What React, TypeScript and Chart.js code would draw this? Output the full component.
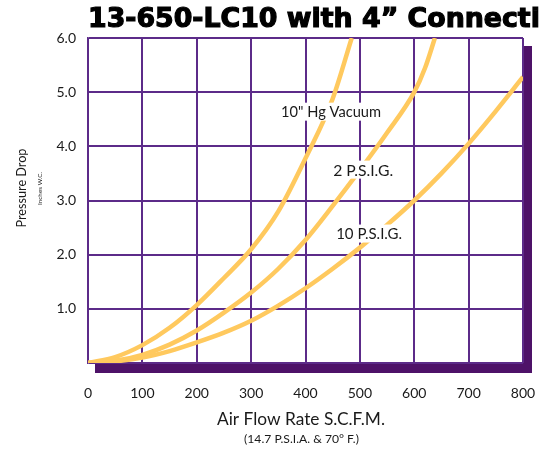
import React, { useEffect, useRef } from "react";
import { Chart, registerables } from "chart.js";

Chart.register(...registerables);

// ---- data ----
const flowTicks = [0, 100, 200, 300, 400, 500, 600, 700, 800];
const dropTicks = [1, 2, 3, 4, 5, 6];

const vacuumFlow = [0, 50, 100, 150, 200, 250, 300, 350, 400, 450, 485];
const vacuumDrop = [0, 0.11, 0.33, 0.65, 1.07, 1.57, 2.1, 2.8, 3.78, 4.88, 6.0];

const psig2Flow = [0, 50, 100, 150, 200, 250, 300, 350, 400, 450, 500, 550, 600, 620, 638];
const psig2Drop = [0, 0.04, 0.15, 0.34, 0.6, 0.93, 1.3, 1.74, 2.27, 2.9, 3.56, 4.25, 5.0, 5.45, 6.0];

const psig10Flow = [0, 50, 100, 150, 200, 250, 300, 350, 400, 450, 500, 550, 600, 650, 700, 750, 800];
const psig10Drop = [0, 0.03, 0.1, 0.22, 0.38, 0.56, 0.78, 1.06, 1.38, 1.74, 2.13, 2.55, 3.0, 3.5, 4.05, 4.65, 5.28];

const seriesNames = ['10" Hg Vacuum', "2 P.S.I.G.", "10 P.S.I.G."];
const labelFlow = [447, 506, 517];
const labelDrop = [4.64, 3.57, 2.39];

const chartTitle = "13-650-LC10 with 4\u201D Connections";
const xTitle = "Air Flow Rate S.C.F.M.";
const xSubtitle = "(14.7 P.S.I.A. & 70\u00B0 F.)";
const yTitle = "Pressure Drop";
const ySubtitle = "Inches W.C.";

const CURVE = "#ffc95e";
const GRID = "#5c2b89";
const SHADOW = "#4e1268";
const TEXT = "#1a1a1a";
const FONT = "Lato";

function fitSize(ctx: CanvasRenderingContext2D, text: string, width: number, family: string, weight: string) {
  ctx.font = `${weight} 100px ${family}`;
  const w = ctx.measureText(text).width;
  return (100 * width) / w;
}

const labelWidths = [100, 60, 66];

const decorPlugin = {
  id: "decor",
  beforeDraw(chart: any) {
    const { ctx, chartArea } = chart;
    const { left, top, right, bottom } = chartArea;
    ctx.save();
    ctx.fillStyle = SHADOW;
    ctx.fillRect(left + 7, top + 8, right + 9 - (left + 7), bottom + 10 - (top + 8));
    ctx.fillStyle = "#ffffff";
    ctx.fillRect(left, top, right - left, bottom - top);
    ctx.restore();
  },
  afterDatasetsDraw(chart: any) {
    const { ctx } = chart;
    const xs = chart.scales.x;
    const ys = chart.scales.y;
    ctx.save();
    ctx.textAlign = "center";
    ctx.textBaseline = "middle";
    seriesNames.forEach((name, i) => {
      const fs = fitSize(ctx, name, labelWidths[i], FONT, "normal");
      ctx.font = `${fs}px ${FONT}`;
      const px = xs.getPixelForValue(labelFlow[i]);
      const py = ys.getPixelForValue(labelDrop[i]);
      const w = ctx.measureText(name).width;
      ctx.fillStyle = "#ffffff";
      ctx.fillRect(px - w / 2 - 4, py - 9, w + 8, 18);
      ctx.fillStyle = TEXT;
      ctx.fillText(name, px, py + 1);
    });
    ctx.restore();
  },
  afterDraw(chart: any) {
    const { ctx } = chart;
    ctx.save();
    ctx.fillStyle = "#000000";
    // title
    const ts = fitSize(ctx, "13-650-LC10 with 4\u201D Connecti", 452, "'DejaVu Sans'", "bold");
    ctx.font = `bold ${ts}px 'DejaVu Sans'`;
    ctx.textAlign = "left";
    ctx.textBaseline = "alphabetic";
    ctx.strokeStyle = "#000";
    ctx.lineWidth = 1.2;
    ctx.fillText(chartTitle, 88, 27);
    ctx.strokeText(chartTitle, 88, 27);

    ctx.fillStyle = TEXT;
    // x titles
    ctx.textAlign = "center";
    let s = fitSize(ctx, xTitle, 168, FONT, "normal");
    ctx.font = `${s}px ${FONT}`;
    ctx.fillText(xTitle, 301, 425);
    s = fitSize(ctx, xSubtitle, 115, FONT, "normal");
    ctx.font = `${s}px ${FONT}`;
    ctx.fillText(xSubtitle, 301.5, 443);

    // y titles
    ctx.save();
    ctx.translate(26, 188);
    ctx.rotate(-Math.PI / 2);
    s = fitSize(ctx, yTitle, 79, FONT, "normal");
    ctx.font = `${s}px ${FONT}`;
    ctx.fillText(yTitle, 0, 0);
    ctx.restore();

    ctx.save();
    ctx.translate(42, 188.5);
    ctx.rotate(-Math.PI / 2);
    s = fitSize(ctx, ySubtitle, 33, FONT, "normal");
    ctx.font = `${s}px ${FONT}`;
    ctx.fillText(ySubtitle, 0, 0);
    ctx.restore();

    ctx.restore();
  },
};

function toPoints(xs: number[], ys: number[]) {
  return xs.map((x, i) => ({ x, y: ys[i] }));
}

export default function App() {
  const ref = useRef<HTMLCanvasElement | null>(null);

  useEffect(() => {
    if (!ref.current) return;
    const mk = (label: string, xs: number[], ys: number[]) => ({
      label,
      data: toPoints(xs, ys),
      borderColor: CURVE,
      backgroundColor: CURVE,
      borderWidth: 4.5,
      pointRadius: 0,
      fill: false,
      cubicInterpolationMode: "monotone" as const,
    });
    const chart = new Chart(ref.current, {
      type: "line",
      data: {
        datasets: [
          mk(seriesNames[0], vacuumFlow, vacuumDrop),
          mk(seriesNames[1], psig2Flow, psig2Drop),
          mk(seriesNames[2], psig10Flow, psig10Drop),
        ],
      },
      options: {
        responsive: false,
        animation: false,
        layout: { padding: { top: 38, right: 16, left: 0, bottom: 0 } },
        plugins: {
          legend: { display: false },
          title: { display: false },
          tooltip: { enabled: false },
        },
        scales: {
          x: {
            type: "linear",
            min: 0,
            max: 800,
            afterFit(scale: any) {
              scale.height = 88;
              scale.paddingLeft = 0;
              scale.paddingRight = 0;
            },
            afterBuildTicks(scale: any) {
              scale.ticks = flowTicks.map((v) => ({ value: v }));
            },
            ticks: {
              padding: 22,
              color: TEXT,
              font: { family: FONT, size: 14 },
              maxRotation: 0,
              autoSkip: false,
              callback: (v: any) => String(v),
            },
            grid: { color: GRID, lineWidth: 2, drawTicks: false },
            border: { display: false },
          },
          y: {
            type: "linear",
            min: 0,
            max: 6,
            afterFit(scale: any) {
              scale.width = 88;
              scale.paddingTop = 0;
              scale.paddingBottom = 0;
            },
            afterBuildTicks(scale: any) {
              scale.ticks = [0, ...dropTicks].map((v) => ({ value: v }));
            },
            ticks: {
              padding: 12,
              color: TEXT,
              font: { family: FONT, size: 14 },
              autoSkip: false,
              callback: (v: any) => (Number(v) === 0 ? "" : Number(v).toFixed(1)),
            },
            grid: { color: GRID, lineWidth: 2, drawTicks: false },
            border: { display: true, color: GRID, width: 1.5 },
          },
        },
      },
      plugins: [decorPlugin],
    });
    return () => chart.destroy();
  }, []);

  return (
    <div style={{ position: "absolute", left: 0, top: 0, width: 539, height: 451 }}>
      <canvas ref={ref} width={539} height={451} />
    </div>
  );
}
